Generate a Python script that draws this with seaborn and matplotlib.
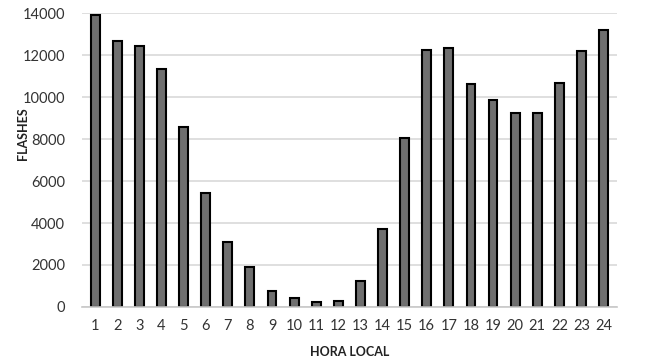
import matplotlib
matplotlib.use("Agg")
import matplotlib.pyplot as plt
import seaborn as sns
import pandas as pd

horas = [str(h) for h in range(1, 25)]
flashes = [13920, 12680, 12440, 11340, 8560, 5440, 3100, 1880, 765, 415, 225, 290,
           1240, 3720, 8080, 12280, 12330, 10630, 9860, 9230, 9260, 10660, 12210, 13230]
yticks = [0, 2000, 4000, 6000, 8000, 10000, 12000, 14000]

sns.set_theme(style="white")
plt.rcParams['font.family'] = ['Lato', 'DejaVu Sans']

df = pd.DataFrame({"hora": horas, "flashes": flashes})

fig = plt.figure(figsize=(6.5, 3.64), dpi=100)
ax = fig.add_axes([0.126, 0.157, 0.823, 0.806])
sns.barplot(data=df, x="hora", y="flashes", order=horas, color="#6f6f6f",
            edgecolor="black", linewidth=1.5, width=0.4, saturation=1, ax=ax)

ax.set_ylim(0, 14000)
ax.set_yticks(yticks)
ax.set_yticklabels([str(v) for v in yticks])
ax.set_xlim(-0.6, 23.6)
ax.yaxis.grid(True, color="#d9d9d9", linewidth=1.2)
ax.set_axisbelow(True)
for s in ["top", "right", "left"]:
    ax.spines[s].set_visible(False)
ax.spines["bottom"].set_color("#c8c8c8")
ax.spines["bottom"].set_linewidth(1.2)
ax.tick_params(axis="both", length=0, labelsize=10.5, colors="#333333")
ax.tick_params(axis="y", pad=12)
ax.tick_params(axis="x", pad=9)
ax.set_xlabel("HORA LOCAL", fontsize=9, fontweight="bold", color="#222222", labelpad=9)
ax.set_ylabel("FLASHES", fontsize=9, fontweight="bold", color="#222222")
ax.yaxis.set_label_coords(-0.098, 0.59)

fig.savefig("out.png", dpi=100)
